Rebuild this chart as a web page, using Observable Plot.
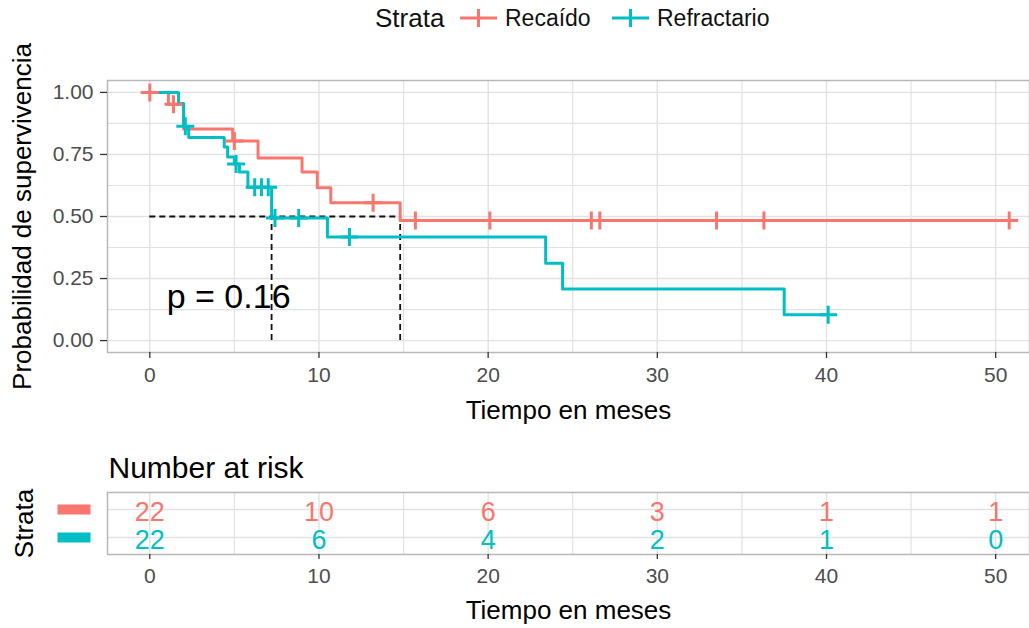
<!DOCTYPE html>
<html><head><meta charset="utf-8">
<script src="https://cdn.jsdelivr.net/npm/d3@7"></script>
<script src="https://cdn.jsdelivr.net/npm/@observablehq/plot@0.6"></script>
<style>
body{margin:0;background:#fff;font-family:"Liberation Sans",Arial,sans-serif;}
#wrap{width:1029px;height:628px;position:relative;overflow:hidden;background:#fff;}
#legend{position:relative;height:40px;width:1029px;}
#legend .t{position:absolute;top:0;height:36px;line-height:36px;white-space:nowrap;color:#111;}
#legend svg{position:absolute;top:6px;}
#wrap > svg, #wrap figure svg{display:block;}
</style>
</head><body>
<div id="wrap">
  <div id="legend"></div>
</div>
<script>
// ---------- data ----------
const strata = ["Recaído", "Refractario"];
const colors = ["#F8766D", "#00BFC4"];
const recaidoTime = [0, 1.1, 2.0, 4.9, 6.4, 9.0, 9.9, 10.7, 14.8, 50.8];
const recaidoSurv = [1.0, 0.952, 0.853, 0.804, 0.736, 0.679, 0.616, 0.555, 0.484, 0.484];
const recaidoCensorTime = [0, 1.4, 5.0, 13.2, 15.7, 20.1, 26.1, 26.6, 33.5, 36.3, 50.8];
const recaidoCensorSurv = [1.0, 0.952, 0.804, 0.555, 0.484, 0.484, 0.484, 0.484, 0.484, 0.484, 0.484];
const refractTime = [0, 1.7, 2.0, 2.3, 4.4, 4.6, 5.0, 5.3, 5.8, 7.2, 10.5, 23.4, 24.4, 37.5, 40.1];
const refractSurv = [1.0, 0.955, 0.864, 0.818, 0.78, 0.74, 0.712, 0.679, 0.618, 0.494, 0.417, 0.312, 0.208, 0.104, 0.104];
const refractCensorTime = [2.1, 5.1, 6.2, 6.6, 7.0, 7.4, 8.8, 11.8, 40.1];
const refractCensorSurv = [0.864, 0.712, 0.618, 0.618, 0.618, 0.494, 0.494, 0.417, 0.104];
const medians = [7.2, 14.8];
const pValueText = "p = 0.16";
const pValuePos = [1.0, 0.177];
const riskTimes = [0, 10, 20, 30, 40, 50];
const riskRecaido = [22, 10, 6, 3, 1, 1];
const riskRefract = [22, 6, 4, 2, 1, 0];
const xTicks = [0, 10, 20, 30, 40, 50];
const xMinor = [5, 15, 25, 35, 45];
const yTicks = [0, 0.25, 0.5, 0.75, 1];
const yMinor = [0.125, 0.375, 0.625, 0.875];
const xLabel = "Tiempo en meses";
const yLabel = "Probabilidad de supervivencia";
const legendTitle = "Strata";
const riskTitle = "Number at risk";

// ---------- tables ----------
const curves = [
  ...recaidoTime.map((t, i) => ({t, s: recaidoSurv[i], g: strata[0]})),
  ...refractTime.map((t, i) => ({t, s: refractSurv[i], g: strata[1]}))
];
const censors = [
  ...recaidoCensorTime.map((t, i) => ({t, s: recaidoCensorSurv[i], g: strata[0]})),
  ...refractCensorTime.map((t, i) => ({t, s: refractCensorSurv[i], g: strata[1]}))
];
const riskData = [
  ...riskTimes.map((t, i) => ({t, n: riskRecaido[i], g: strata[0]})),
  ...riskTimes.map((t, i) => ({t, n: riskRefract[i], g: strata[1]}))
];

const FONT = '"Liberation Sans", Arial, sans-serif';
const GRID = "#E2E2E2";
const BORDER = "#B8B8B8";
const XDOM = [-2.5, 52.0];
const plusSymbol = {draw(ctx, size) { const r = Math.sqrt(size / Math.PI); ctx.moveTo(-r, 0); ctx.lineTo(r, 0); ctx.moveTo(0, -r); ctx.lineTo(0, r); }};
const keySymbol = {draw(ctx) { ctx.rect(-16.5, -5, 33, 10); }};

// ---------- legend ----------
const legend = document.getElementById("legend");
function addText(txt, left, size) {
  const s = document.createElement("span");
  s.className = "t"; s.textContent = txt; s.style.left = left + "px"; s.style.fontSize = size + "px";
  legend.appendChild(s);
}
function addKey(color, left) {
  const ns = "http://www.w3.org/2000/svg";
  const svg = document.createElementNS(ns, "svg");
  svg.setAttribute("width", 40); svg.setAttribute("height", 24);
  svg.style.left = left + "px";
  svg.innerHTML = `<line x1="1" x2="38" y1="12" y2="12" stroke="${color}" stroke-width="3"/>` +
    `<line x1="19.5" x2="19.5" y1="3" y2="21" stroke="${color}" stroke-width="3"/>`;
  legend.appendChild(svg);
}
addText(legendTitle, 375, 26);
addKey(colors[0], 459);
addText(strata[0], 505, 23);
addKey(colors[1], 611);
addText(strata[1], 657, 23);

// ---------- main plot ----------
const main = Plot.plot({
  width: 1029, height: 400,
  marginTop: 40, marginBottom: 88, marginLeft: 107, marginRight: 0,
  style: {fontFamily: FONT, color: "#4D4D4D", background: "transparent", overflow: "visible"},
  x: {domain: XDOM},
  y: {domain: [-0.048, 1.048]},
  color: {domain: strata, range: colors},
  marks: [
    Plot.gridX(xMinor, {stroke: GRID, strokeOpacity: 1, strokeWidth: 1.2}),
    Plot.gridX(xTicks, {stroke: GRID, strokeOpacity: 1, strokeWidth: 1.4}),
    Plot.gridY(yMinor, {stroke: GRID, strokeOpacity: 1, strokeWidth: 1.2}),
    Plot.gridY(yTicks, {stroke: GRID, strokeOpacity: 1, strokeWidth: 1.4}),
    Plot.frame({stroke: BORDER, strokeWidth: 1.5}),
    Plot.ruleY([0.5], {x1: 0, x2: d3.max(medians), stroke: "#111", strokeWidth: 1.8, strokeDasharray: "6,4"}),
    Plot.ruleX(medians, {x: d => d, y1: 0, y2: 0.5, stroke: "#111", strokeWidth: 1.8, strokeDasharray: "6,4"}),
    Plot.line(curves, {x: "t", y: "s", z: "g", stroke: "g", curve: "step-after", strokeWidth: 3}),
    Plot.dot(censors, {x: "t", y: "s", stroke: "g", fill: "none", symbol: plusSymbol, r: 9, strokeWidth: 3}),
    Plot.text([pValueText], {x: pValuePos[0], y: pValuePos[1], textAnchor: "start", fontSize: 34, fill: "#000"}),
    Plot.axisX(xTicks, {tickSize: 6, tickPadding: 9, fontSize: 21, color: "#4D4D4D", stroke: "#333", strokeWidth: 1.3, label: null}),
    Plot.axisY(yTicks, {tickFormat: d3.format(".2f"), tickSize: 7, tickPadding: 7, fontSize: 21, color: "#4D4D4D", stroke: "#333", strokeWidth: 1.3, label: null}),
    Plot.text([xLabel], {frameAnchor: "bottom", dy: 58, lineAnchor: "middle", textAnchor: "middle", fontSize: 26, fill: "#000"}),
    Plot.text([yLabel], {frameAnchor: "left", dx: -85, rotate: -90, lineAnchor: "middle", textAnchor: "middle", fontSize: 26, fill: "#000"})
  ]
});
document.getElementById("wrap").appendChild(main);

// ---------- risk table ----------
const risk = Plot.plot({
  width: 1029, height: 188,
  marginTop: 52, marginBottom: 74, marginLeft: 107, marginRight: 0,
  style: {fontFamily: FONT, color: "#4D4D4D", background: "transparent", overflow: "visible"},
  x: {domain: XDOM},
  y: {type: "point", domain: strata, padding: 0.607, axis: null},
  color: {domain: strata, range: colors},
  marks: [
    Plot.gridX(xMinor, {stroke: GRID, strokeOpacity: 1, strokeWidth: 1.2}),
    Plot.gridX(xTicks, {stroke: GRID, strokeOpacity: 1, strokeWidth: 1.4}),
    Plot.gridY(strata, {stroke: GRID, strokeOpacity: 1, strokeWidth: 1.4}),
    Plot.frame({stroke: BORDER, strokeWidth: 1.5}),
    Plot.text(riskData, {x: "t", y: "g", text: "n", fill: "g", fontSize: 27, dy: 3}),
    Plot.axisX(xTicks, {tickSize: 5, tickPadding: 9, fontSize: 21, color: "#4D4D4D", stroke: "#333", strokeWidth: 1.3, label: null}),
    Plot.dot(strata, {y: d => d, fill: d => d, frameAnchor: "left", dx: -33.5, symbol: keySymbol, r: 5}),
    Plot.text([legendTitle], {frameAnchor: "left", dx: -83, rotate: -90, lineAnchor: "middle", textAnchor: "middle", fontSize: 26, fill: "#000"}),
    Plot.text([riskTitle], {frameAnchor: "top-left", dx: 1, dy: -24, lineAnchor: "middle", textAnchor: "start", fontSize: 30, fill: "#000"}),
    Plot.text([xLabel], {frameAnchor: "bottom", dy: 56, lineAnchor: "middle", textAnchor: "middle", fontSize: 26, fill: "#000"})
  ]
});
document.getElementById("wrap").appendChild(risk);
</script>
</body></html>
